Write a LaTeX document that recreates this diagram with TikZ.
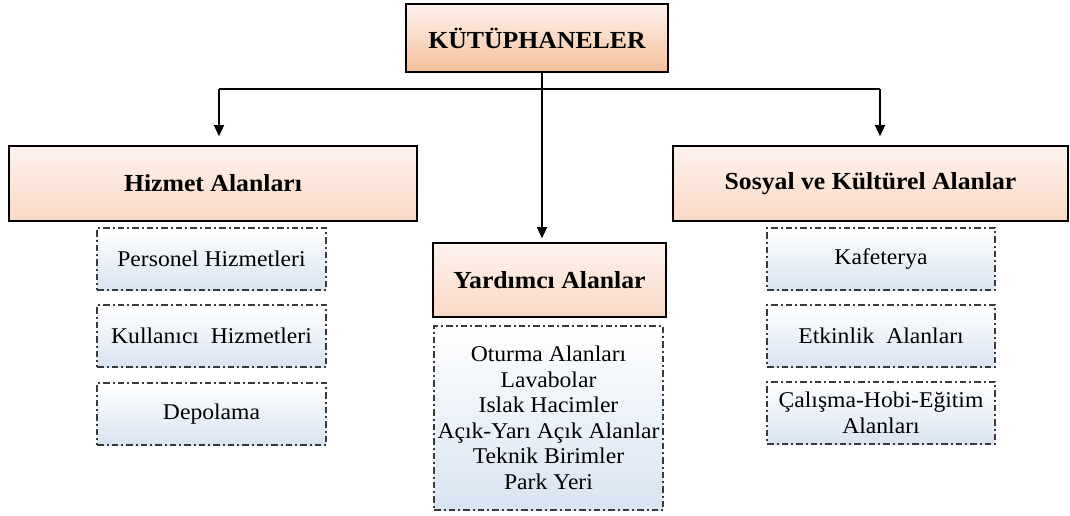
\documentclass[tikz,border=0pt]{standalone}
\usepackage{fontspec}
\setmainfont{Liberation Serif}[FakeStretch=1.05]
\usetikzlibrary{arrows.meta}
\definecolor{pkTop}{HTML}{FEF3EE}
\definecolor{pkBot}{HTML}{F9D8C4}
\definecolor{pkBotDeep}{HTML}{F5BF9A}
\definecolor{bluBot}{HTML}{D8E4F2}
\definecolor{dashGray}{HTML}{3A3A3A}
\tikzset{
  hdr/.style={draw=black, line width=1.6pt, top color=pkTop, bottom color=pkBot,
    font=\fontsize{24.5}{28}\selectfont\bfseries, inner sep=0pt, align=center},
  subbox/.style={draw=dashGray, line width=1.3pt,
    dash pattern=on 6.5pt off 3pt on 2pt off 3pt,
    top color=white, bottom color=bluBot,
    font=\fontsize{22.5}{25.5}\selectfont, inner sep=0pt, align=center},
  conn/.style={line width=1.4pt, draw=black},
  arr/.style={conn, -{Triangle[width=10pt,length=11pt]}}
}
\begin{document}
\begin{tikzpicture}[x=1pt,y=-1pt]
\useasboundingbox (0,0) rectangle (1070,515);
% top
\node[hdr, top color=pkTop, bottom color=pkBotDeep, minimum width=262pt, minimum height=68pt] (top) at (537,38) {KÜTÜPHANELER};
% headers
\node[hdr, minimum width=408pt, minimum height=75pt] (hiz) at (213,183.5) {Hizmet Alanları};
\node[hdr, minimum width=395pt, minimum height=75pt] (sos) at (870.5,183.5) {Sosyal ve Kültürel Alanlar};
\node[hdr, minimum width=233pt, minimum height=74pt] (yar) at (549.5,280) {Yardımcı Alanlar};
% sub boxes left
\node[subbox, minimum width=229pt, minimum height=62pt] (h1) at (211.5,259) {Personel Hizmetleri};
\node[subbox, minimum width=229pt, minimum height=62pt] (h2) at (211.5,336) {Kullanıcı\ \ Hizmetleri};
\node[subbox, minimum width=229pt, minimum height=62pt] (h3) at (211.5,414) {Depolama};
% sub boxes right
\node[subbox, minimum width=228pt, minimum height=62pt] (s1) at (881,259) {Kafeterya};
\node[subbox, minimum width=228pt, minimum height=62pt] (s2) at (881,336) {Etkinlik\ \ Alanları};
\node[subbox, minimum width=228pt, minimum height=62pt] (s3) at (881,413) {Çalışma-Hobi-Eğitim\\Alanları};
% middle sub box
\node[subbox, minimum width=229pt, minimum height=184pt] (y1) at (548.5,418) {Oturma Alanları\\Lavabolar\\Islak Hacimler\\Açık-Yarı Açık Alanlar\\Teknik Birimler\\Park Yeri};
% connectors
\coordinate (jc) at (542,89);
\coordinate (jl) at (219,89);
\coordinate (jr) at (880,89);
\draw[conn] (top.south -| jc) -- (jc);
\draw[conn] (jl) -- (jr);
\draw[arr, shorten >=9pt] (jl) -- (jl |- hiz.north);
\draw[arr, shorten >=9pt] (jr) -- (jr |- sos.north);
\draw[arr, shorten >=4pt] (jc) -- (jc |- yar.north);
\end{tikzpicture}
\end{document}
